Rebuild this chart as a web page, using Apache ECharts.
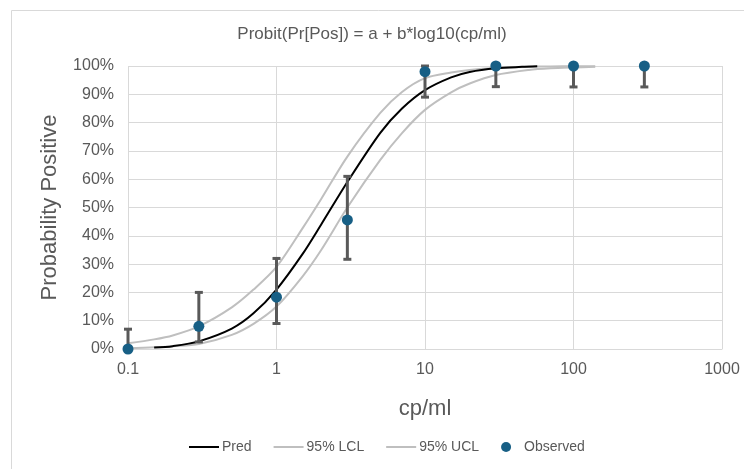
<!DOCTYPE html>
<html>
<head>
<meta charset="utf-8">
<script src="https://cdn.jsdelivr.net/npm/echarts@6/dist/echarts.min.js"></script>
<style>
  html, body { margin: 0; padding: 0; background: #fff; }
  #chart { width: 744px; height: 469px; }
</style>
</head>
<body>
<div id="chart"></div>
<script>
// 读图得到的数据 (cp/ml, %)
const curveX = [0.1, 0.15, 0.2, 0.3, 0.5, 0.7, 1, 1.5, 2, 3, 5, 7, 10, 15, 20, 30, 50, 70, 100, 140];
const predX = [0.15, 0.2, 0.3, 0.5, 0.7, 1, 1.5, 2, 3, 5, 7, 10, 15, 20, 30, 45, 57];
const predY = [0.5, 1.0, 2.7, 7.2, 12.6, 21, 33.6, 44, 59, 76.4, 85, 91.5, 96, 97.9, 99.2, 99.7, 99.9];
const lclY = [0.3, 0.6, 1.0, 1.8, 5, 8.9, 15, 25.7, 35, 50, 66.8, 76.3, 84.5, 90.7, 93.8, 96.8, 98.6, 99.2, 99.5, 99.7];
const uclY = [2.0, 3.4, 4.8, 8, 14.7, 21, 29, 42.7, 53, 68, 83.4, 90.8, 95.7, 97.7, 98.6, 99.3, 99.7, 99.85, 99.9, 99.95];

const obsX = [0.1, 0.3, 1, 3, 10, 30, 100, 300];
const obsY = [0, 8, 18.3, 45.6, 98, 100, 100, 100];
const obsLow = [0, 2.5, 9, 31.7, 89, 92.7, 92.6, 92.6];
const obsHigh = [7, 20, 32, 61, 100, 100, 100, 100];

const xTicks = ["0.1", "1", "10", "100", "1000"];

const textColor = "#595959";
const gridColor = "#d9d9d9";
const fontFamily = "Liberation Sans, Arial, sans-serif";
const lineIcon = "path://M0,0H30V2H0Z";

const zip = (xs, ys) => xs.map((x, i) => [x, ys[i]]);

const chart = echarts.init(document.getElementById("chart"));

const option = {
  animation: false,
  textStyle: { fontFamily: fontFamily },
  title: {
    text: "Probit(Pr[Pos]) = a + b*log10(cp/ml)",
    left: "center",
    top: 21,
    textStyle: { color: textColor, fontSize: 17, fontWeight: "normal", fontFamily: fontFamily },
  },
  graphic: [
    {
      type: "rect",
      shape: { x: 11.5, y: 10.5, width: 800, height: 500 },
      style: { fill: "none", stroke: gridColor, lineWidth: 1 },
      silent: true,
    },
  ],
  grid: { left: 128, right: 22, top: 66, bottom: 120 },
  legend: {
    bottom: 10,
    left: 184,
    itemWidth: 30,
    itemHeight: 10,
    itemGap: 22,
    textStyle: { color: textColor, fontSize: 14, padding: [0, 0, 0, -2] },
    data: [
      { name: "Pred", icon: lineIcon },
      { name: "95% LCL", icon: lineIcon },
      { name: "95% UCL", icon: lineIcon },
      { name: "Observed", icon: "circle" },
    ],
  },
  xAxis: {
    type: "log",
    logBase: 10,
    min: 0.1,
    max: 1000,
    name: "cp/ml",
    nameLocation: "middle",
    nameGap: 49,
    nameTextStyle: { color: textColor, fontSize: 22 },
    axisLine: { show: true, lineStyle: { color: gridColor } },
    axisTick: { show: false },
    axisLabel: {
      color: textColor,
      fontSize: 16,
      margin: 13,
      formatter: (v) => xTicks[Math.round(Math.log10(v)) + 1],
    },
    splitLine: { show: true, lineStyle: { color: gridColor } },
  },
  yAxis: {
    type: "value",
    min: 0,
    max: 100,
    interval: 10,
    name: "Probability Positive",
    nameLocation: "middle",
    nameGap: 67,
    nameTextStyle: { color: textColor, fontSize: 22 },
    axisLine: { show: false },
    axisTick: { show: false },
    axisLabel: { color: textColor, fontSize: 16, margin: 14, formatter: "{value}%" },
    splitLine: { lineStyle: { color: gridColor } },
  },
  series: [
    {
      name: "Pred",
      type: "line",
      data: zip(predX, predY),
      smooth: 0.3,
      symbol: "none",
      lineStyle: { color: "#000000", width: 2 },
      itemStyle: { color: "#000000" },
      z: 3,
    },
    {
      name: "95% LCL",
      type: "line",
      data: zip(curveX, lclY),
      smooth: 0.3,
      symbol: "none",
      lineStyle: { color: "#bfbfbf", width: 2 },
      itemStyle: { color: "#bfbfbf" },
      z: 2,
    },
    {
      name: "95% UCL",
      type: "line",
      data: zip(curveX, uclY),
      smooth: 0.3,
      symbol: "none",
      lineStyle: { color: "#bfbfbf", width: 2 },
      itemStyle: { color: "#bfbfbf" },
      z: 2,
    },
    {
      // 误差线
      name: "errorBars",
      type: "custom",
      data: obsX.map((x, i) => [x, obsLow[i], obsHigh[i]]),
      encode: { x: 0, y: [1, 2] },
      renderItem: (params, api) => {
        const top = api.coord([api.value(0), api.value(2)]);
        const bot = api.coord([api.value(0), api.value(1)]);
        const half = 4;
        const style = { stroke: "#595959", lineWidth: 3 };
        return {
          type: "group",
          children: [
            { type: "line", shape: { x1: top[0], y1: top[1], x2: bot[0], y2: bot[1] }, style: style },
            { type: "line", shape: { x1: top[0] - half, y1: top[1], x2: top[0] + half, y2: top[1] }, style: style },
            { type: "line", shape: { x1: bot[0] - half, y1: bot[1], x2: bot[0] + half, y2: bot[1] }, style: style },
          ],
        };
      },
      z: 4,
      silent: true,
    },
    {
      name: "Observed",
      type: "scatter",
      data: zip(obsX, obsY),
      symbol: "circle",
      symbolSize: 11,
      itemStyle: { color: "#175f85", opacity: 1 },
      z: 5,
    },
  ],
};

chart.setOption(option);
</script>
</body>
</html>
